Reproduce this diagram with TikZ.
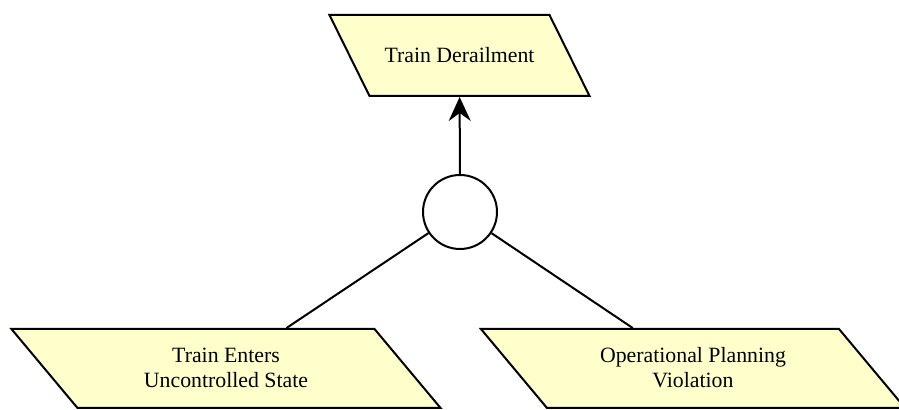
\documentclass[tikz,border=0pt]{standalone}
\usepackage{fontspec}
\setmainfont{Liberation Serif}
\usetikzlibrary{shapes.geometric,arrows.meta}

\definecolor{eventfill}{RGB}{255,255,204}

\begin{document}
\begin{tikzpicture}[x = 0.5pt, y = -0.5pt]
	% Styles for the events and the gate
	\tikzset{
		event/.style = {trapezium, draw, line width = 1pt, fill = eventfill,
			align = flush center, inner xsep = 0pt,
			font = \fontsize{10.9}{12.5}\selectfont},
		top event/.style = {event, trapezium left angle = 116.3,
			trapezium right angle = 63.7, text width = 90pt,
			text height = 7.2pt, text depth = 0pt, inner ysep = 16.65pt},
		basic event/.style = {event, trapezium left angle = 129.9,
			trapezium right angle = 50.1, text height = 7pt,
			text depth = 12.5pt, inner ysep = 10pt},
		gate/.style = {circle, draw, line width = 1pt, fill = white,
			minimum size = 37pt, inner sep = 0pt},
		link/.style = {line width = 1pt}
	}

	% Fix the frame of the page
	\useasboundingbox (0, 0) rectangle (899, 410);

	% Top event
	\node[top event] (derail) at (459.5, 55.5) {Train Derailment};

	% Gate under the top event
	\node[gate] (orgate) at (460, 212) {};

	% Basic events
	\node[basic event, text width = 148.5pt]
		(uncontrolled) at (226, 368.5) {Train Enters\\Uncontrolled State};
	\node[basic event, text width = 146pt]
		(planning) at (693, 368.5) {Operational Planning\\Violation};

	% Connect the events through the gate
	\draw[link, -{Stealth[length = 12pt, width = 11pt, inset = 4pt]}] (orgate) -- (derail);
	\draw[link] (orgate) -- (uncontrolled);
	\draw[link] (orgate) -- (planning);

\end{tikzpicture}
\end{document}
